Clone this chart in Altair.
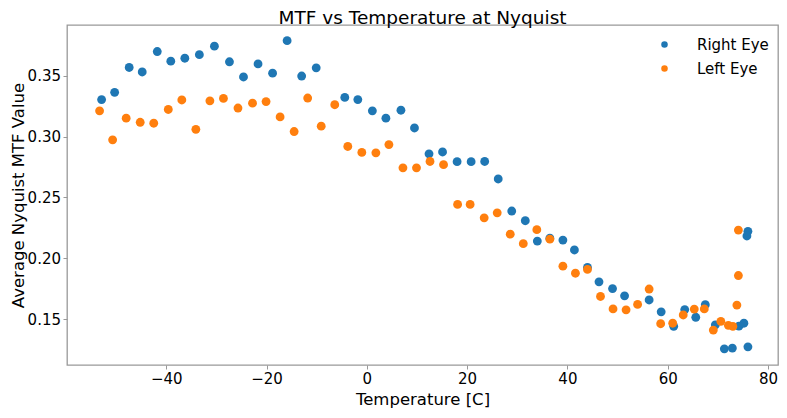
import altair as alt
import pandas as pd

# ---- data ----
right_temp = [-52.9, -50.3, -47.4, -44.8, -41.8, -39.1, -36.3, -33.4, -30.4, -27.4,
              -24.6, -21.7, -18.8, -15.9, -13.0, -10.1, -4.4, -1.8, 1.1, 3.8,
              6.8, 9.5, 12.4, 15.1, 18.0, 20.8, 23.5, 26.2, 28.9, 31.6,
              34.0, 36.5, 39.1, 41.4, 44.0, 46.3, 49.0, 51.4, 56.3, 58.7,
              61.2, 63.4, 65.6, 67.5, 69.5, 71.3, 72.9, 74.2, 75.2, 76.0,
              75.8, 76.0]
right_mtf = [0.3304, 0.3364, 0.3568, 0.3531, 0.3699, 0.3620, 0.3644, 0.3673, 0.3743, 0.3615,
             0.3490, 0.3597, 0.3521, 0.3788, 0.3498, 0.3565, 0.3322, 0.3304, 0.3212, 0.3152,
             0.3217, 0.3071, 0.2859, 0.2874, 0.2794, 0.2794, 0.2796, 0.2652, 0.2389, 0.2309,
             0.2142, 0.2166, 0.2150, 0.2069, 0.1925, 0.1807, 0.1752, 0.1692, 0.1658, 0.1561,
             0.1442, 0.1579, 0.1516, 0.1619, 0.1454, 0.1257, 0.1263, 0.1443, 0.1467, 0.2222,
             0.2184, 0.1273]

left_temp = [-53.3, -50.7, -48.0, -45.2, -42.5, -39.6, -36.9, -34.1, -31.3, -28.6,
             -25.7, -22.8, -20.1, -17.3, -14.5, -11.8, -9.1, -6.4, -3.8, -1.0,
             1.8, 4.4, 7.2, 9.9, 12.6, 15.3, 18.1, 20.6, 23.4, 26.0,
             28.6, 31.2, 33.9, 36.5, 39.1, 41.6, 44.0, 46.6, 49.1, 51.7,
             54.0, 56.3, 58.6, 61.0, 63.1, 65.3, 67.3, 69.1, 70.6, 72.1,
             73.0, 74.1, 74.1, 73.8]
left_mtf = [0.3212, 0.2974, 0.3152, 0.3118, 0.3110, 0.3223, 0.3301, 0.3060, 0.3294, 0.3314,
            0.3235, 0.3275, 0.3288, 0.3162, 0.3042, 0.3317, 0.3086, 0.3262, 0.2919, 0.2870,
            0.2867, 0.2935, 0.2744, 0.2744, 0.2796, 0.2770, 0.2443, 0.2443, 0.2333, 0.2374,
            0.2199, 0.2121, 0.2236, 0.2158, 0.1936, 0.1878, 0.1909, 0.1687, 0.1585, 0.1577,
            0.1622, 0.1748, 0.1463, 0.1467, 0.1535, 0.1583, 0.1585, 0.1411, 0.1483, 0.1450,
            0.1441, 0.2232, 0.1859, 0.1616]

series_names = ["Right Eye", "Left Eye"]
series_colors = ["#1f77b4", "#ff7f0e"]
x_ticks = [-40, -20, 0, 20, 40, 60, 80]
y_ticks = [0.15, 0.20, 0.25, 0.30, 0.35]

PAD_L, PAD_T = 59, 17
W, H = 711, 340
FONT = "DejaVu Sans"
FRAME = "#999999"

df_r = pd.DataFrame({"temp": right_temp, "mtf": right_mtf, "eye": series_names[0]})
df_l = pd.DataFrame({"temp": left_temp, "mtf": left_mtf, "eye": series_names[1]})

x_enc = alt.X(
    "temp:Q",
    scale=alt.Scale(domain=[-59.8, 82.0], nice=False, zero=False),
    axis=alt.Axis(values=x_ticks, format="d", title="Temperature [C]", grid=False, domain=False,
                  tickSize=4, tickColor=FRAME, labelPadding=2.5, labelFontSize=15, labelFont=FONT,
                  labelColor="black", titleFontSize=16.5, titleFont=FONT, titleFontWeight="normal",
                  titleColor="black", titleX=W / 2, titleY=39.8, titleBaseline="alphabetic",
                  titleAlign="center"),
)
y_enc = alt.Y(
    "mtf:Q",
    scale=alt.Scale(domain=[0.1124, 0.3917], nice=False, zero=False),
    axis=alt.Axis(values=y_ticks, format=".2f", title="Average Nyquist MTF Value", grid=False,
                  domain=False, tickSize=4, tickColor=FRAME, labelPadding=2.5, labelFontSize=15,
                  labelFont=FONT, labelColor="black", titleFontSize=16.5, titleFont=FONT,
                  titleFontWeight="normal", titleColor="black", titleX=-43.7, titleY=H / 2,
                  titleAngle=270, titleBaseline="alphabetic", titleAlign="center"),
)
color_enc = alt.Color(
    "eye:N",
    scale=alt.Scale(domain=series_names, range=series_colors),
    legend=alt.Legend(title=None, orient="none", legendX=590, legendY=12, symbolType="circle",
                      symbolSize=42, symbolStrokeWidth=0, labelFontSize=15, labelFont=FONT,
                      labelColor="black", labelOffset=25, rowPadding=8, padding=0),
)

blue = alt.Chart(df_r).mark_circle(size=78, opacity=1).encode(x=x_enc, y=y_enc, color=color_enc)
orange = alt.Chart(df_l).mark_circle(size=78, opacity=1).encode(x=x_enc, y=y_enc, color=color_enc)

chart = (
    alt.layer(blue, orange)
    .properties(
        width=W,
        height=H,
        title=alt.TitleParams("MTF vs Temperature at Nyquist", fontSize=18.5, font=FONT,
                              fontWeight="normal", color="black", offset=0, dy=2.4,
                              anchor="middle", frame="group"),
        autosize=alt.AutoSizeParams(type="none"),
        padding={"left": PAD_L, "top": PAD_T, "right": 1, "bottom": 45},
    )
    .configure_view(stroke=FRAME, strokeWidth=1.3)
)

chart.save("out.html", embed_options={"renderer": "svg", "actions": False})
